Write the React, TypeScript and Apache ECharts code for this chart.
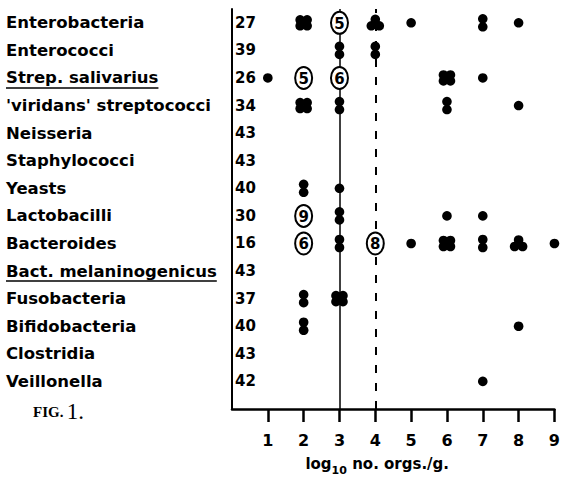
import React, { useEffect, useRef } from "react";
import * as echarts from "echarts";

// Organisms (top to bottom)
const categories = [
  "Enterobacteria",
  "Enterococci",
  "Strep. salivarius",
  "'viridans' streptococci",
  "Neisseria",
  "Staphylococci",
  "Yeasts",
  "Lactobacilli",
  "Bacteroides",
  "Bact. melaninogenicus",
  "Fusobacteria",
  "Bifidobacteria",
  "Clostridia",
  "Veillonella",
];

// Number of specimens with no growth (shown next to the axis)
const noGrowth = [27, 39, 26, 34, 43, 43, 40, 30, 16, 43, 37, 40, 43, 42];

// log10 levels on the x axis
const logLevels = [1, 2, 3, 4, 5, 6, 7, 8, 9];

// Number of specimens at each log10 level (columns: 1..9)
const countsByRow = [
  [0, 4, 5, 3, 1, 0, 2, 1, 0],
  [0, 0, 2, 2, 0, 0, 0, 0, 0],
  [1, 5, 6, 0, 0, 4, 1, 0, 0],
  [0, 4, 2, 0, 0, 2, 0, 1, 0],
  [0, 0, 0, 0, 0, 0, 0, 0, 0],
  [0, 0, 0, 0, 0, 0, 0, 0, 0],
  [0, 2, 1, 0, 0, 0, 0, 0, 0],
  [0, 9, 2, 0, 0, 1, 1, 0, 0],
  [0, 6, 2, 8, 1, 4, 2, 3, 1],
  [0, 0, 0, 0, 0, 0, 0, 0, 0],
  [0, 2, 4, 0, 0, 0, 0, 0, 0],
  [0, 2, 0, 0, 0, 0, 0, 1, 0],
  [0, 0, 0, 0, 0, 0, 0, 0, 0],
  [0, 0, 0, 0, 0, 0, 1, 0, 0],
];

const underlinedRows = ["Strep. salivarius", "Bact. melaninogenicus"];
const solidLineAt = 3;
const dashedLineAt = 4;

const FONT = "'DejaVu Sans', sans-serif";
const NAME_FONT_SIZE = 16.5;

// dot cluster layouts (pixel offsets) for counts 1..4
const CLUSTER: Record<number, number[][]> = {
  1: [[0, 0]],
  2: [[0, -4], [0, 4]],
  3: [[-4, 3], [4, 3], [0, -3.5]],
  4: [[-3.5, -3], [3.5, -3], [-3.5, 3], [3.5, 3]],
};

export default function App() {
  const ref = useRef<HTMLDivElement>(null);
  useEffect(() => {
    if (!ref.current) return;
    const chart = echarts.init(ref.current, null, { renderer: "svg" });
    const nRows = categories.length;
    const rowValue = (i: number) => nRows - i;
    const points: number[][] = [];
    countsByRow.forEach((row, i) =>
      row.forEach((n, j) => {
        if (n > 0) points.push([logLevels[j], rowValue(i), n]);
      })
    );
    const nameOf = (v: number) => {
      if (Math.abs(v - Math.round(v)) > 1e-6) return "";
      const i = nRows - Math.round(v);
      return i >= 0 && i < nRows ? categories[i] : "";
    };
    const numOf = (v: number) => {
      if (Math.abs(v - Math.round(v)) > 1e-6) return "";
      const i = nRows - Math.round(v);
      return i >= 0 && i < nRows ? String(noGrowth[i]) : "";
    };
    const gridLeft = 232;
    const labelMargin = 226;

    chart.setOption({
      animation: false,
      backgroundColor: "#fff",
      grid: { left: gridLeft, right: 6, top: 9, bottom: 76, containLabel: false },
      xAxis: {
        type: "value",
        min: 0,
        max: 9,
        interval: 1,
        axisLine: { show: true, lineStyle: { color: "#000", width: 2.5 } },
        axisTick: {
          show: true,
          length: 13,
          customValues: logLevels,
          lineStyle: { color: "#000", width: 2.5 },
        },
        axisLabel: {
          customValues: logLevels,
          margin: 23,
          color: "#000",
          fontFamily: FONT,
          fontWeight: "bold",
          fontSize: 16,
        },
        splitLine: { show: false },
        name: "{a|log}{b|10}{a| no. orgs./g.}",
        nameLocation: "middle",
        nameGap: 47,
        nameTextStyle: {
          padding: [0, 32, 0, 0],
          rich: {
            a: { fontFamily: FONT, fontWeight: "bold", fontSize: 15, color: "#000", verticalAlign: "top", lineHeight: 20 },
            b: { fontFamily: FONT, fontWeight: "bold", fontSize: 11, color: "#000", verticalAlign: "bottom", lineHeight: 20, padding: [8, 0, 0, 0] },
          },
        },
      },
      yAxis: [
        {
          type: "value",
          min: 0,
          max: 14.5,
          interval: 1,
          axisLine: { show: true, lineStyle: { color: "#000", width: 2 } },
          axisTick: { show: false },
          splitLine: { show: false },
          axisLabel: {
            formatter: nameOf,
            align: "left",
            margin: labelMargin,
            color: "#000",
            fontFamily: FONT,
            fontWeight: "bold",
            fontSize: NAME_FONT_SIZE,
            showMaxLabel: false,
          },
        },
        {
          type: "value",
          position: "left",
          min: 0,
          max: 14.5,
          interval: 1,
          axisLine: { show: false },
          axisTick: { show: false },
          splitLine: { show: false },
          axisLabel: {
            inside: true,
            formatter: numOf,
            margin: 3,
            color: "#000",
            fontFamily: FONT,
            fontWeight: "bold",
            fontSize: 15,
            showMaxLabel: false,
          },
        },
      ],
      series: [
        {
          type: "line",
          data: [],
          silent: true,
          markLine: {
            silent: true,
            symbol: "none",
            label: { show: false },
            data: [
              { xAxis: solidLineAt, lineStyle: { color: "#000", width: 1.5, type: "solid" } },
              { xAxis: dashedLineAt, lineStyle: { color: "#000", width: 2, type: [8, 10] } },
            ],
          },
        },
        {
          type: "custom",
          z: 5,
          data: points,
          renderItem: (params: any, api: any) => {
            const x = api.value(0);
            const y = api.value(1);
            const n = api.value(2);
            const [cx, cy] = api.coord([x, y]);
            if (n >= 5) {
              return {
                type: "group",
                children: [
                  {
                    type: "ellipse",
                    shape: { cx, cy, rx: 8.5, ry: 11 },
                    style: { fill: "#fff", stroke: "#000", lineWidth: 2 },
                  },
                  {
                    type: "text",
                    x: cx,
                    y: cy + 1,
                    style: {
                      text: String(n),
                      fill: "#000",
                      fontFamily: FONT,
                      fontWeight: "bold",
                      fontSize: 15,
                      align: "center",
                      verticalAlign: "middle",
                    },
                  },
                ],
              };
            }
            const offs = CLUSTER[n] || [[0, 0]];
            return {
              type: "group",
              children: offs.map(([dx, dy]) => ({
                type: "circle",
                shape: { cx: cx + dx, cy: cy + dy, r: 4.8 },
                style: { fill: "#000" },
              })),
            };
          },
        },
      ],
    });

    // underlines for the two underlined organism names
    const ctx = document.createElement("canvas").getContext("2d");
    const graphics: any[] = [];
    underlinedRows.forEach((name) => {
      const i = categories.indexOf(name);
      if (i < 0) return;
      const py = chart.convertToPixel({ yAxisIndex: 0 }, rowValue(i)) as number;
      let w = 150;
      if (ctx) {
        ctx.font = `bold ${NAME_FONT_SIZE}px ${FONT}`;
        w = ctx.measureText(name).width;
      }
      const x0 = gridLeft - labelMargin;
      graphics.push({
        type: "line",
        shape: { x1: x0, y1: py + 10, x2: x0 + w, y2: py + 10 },
        style: { stroke: "#000", lineWidth: 1.5 },
      });
    });
    graphics.push({
      type: "text",
      left: 33,
      top: 400,
      style: {
        text: "{s|FIG.} {n|1.}",
        rich: {
          s: { fontFamily: "'Liberation Serif', serif", fontWeight: "bold", fontSize: 15, fill: "#000" },
          n: { fontFamily: "'Liberation Serif', serif", fontSize: 23, fill: "#000" },
        },
      },
    });
    chart.setOption({ graphic: graphics });

    return () => chart.dispose();
  }, []);
  return (
    <div
      ref={ref}
      style={{ position: "absolute", left: 0, top: 0, width: 563, height: 485, background: "#fff" }}
    />
  );
}
